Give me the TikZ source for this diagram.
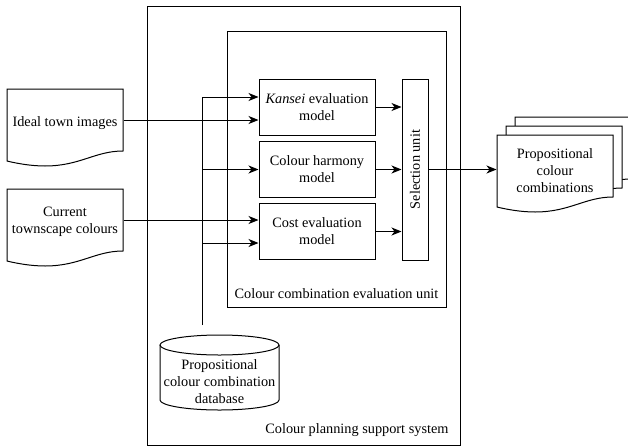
\documentclass[tikz,border=0pt]{standalone}
\usepackage{fontspec}
\setmainfont{Liberation Serif}
\usetikzlibrary{arrows.meta,calc}
\begin{document}
\begin{tikzpicture}[x=1pt,y=-1pt, line width=1pt,
  every node/.style={font=\fontsize{14.3}{17}\selectfont, align=center, inner sep=0pt},
  box/.style={draw, minimum width=116pt, minimum height=56pt},
  arr/.style={-{Stealth[length=10pt,width=8pt,inset=3pt]}},
  docnode/.style={minimum width=116pt},
  doc/.pic={\draw[fill=white] (0,0) -- (116,0) -- (116,62) .. controls (88,62) and (73,77) .. (38,77) .. controls (23,77) and (8,74) .. (0,72) -- cycle;}
]
\useasboundingbox (0,0) rectangle (628,447);
\clip (0,0) rectangle (628,447);

% containers
\node[draw, minimum width=313pt, minimum height=439pt] (outer) at (303.5,225.5) {};
\node[draw, minimum width=219pt, minimum height=276pt] (inner) at (336.5,169) {};

% models
\node[box] (kansei) at (317,107) {\textit{Kansei} evaluation\\model};
\node[box] (harmony) at (317,169.5) {Colour harmony\\model};
\node[box] (cost) at (317,231.5) {Cost evaluation\\model};
\node[draw, minimum width=26pt, minimum height=181pt] (sel) at (415,169.5) {\rotatebox{90}{Selection unit}};

% input documents
\pic at (7,89) {doc};
\node[docnode] (ideal) at (65,123) {Ideal town images};
\pic at (7,189) {doc};
\node[docnode] (current) at (65,222) {Current\\townscape colours};

% output documents
\pic at (515,117) {doc};
\pic at (506,126) {doc};
\pic at (497,135) {doc};
\node[docnode] (out) at (555,170.5) {Propositional\\colour\\combinations};

% database
\draw (219.5,345) ellipse [x radius=59.5, y radius=10];
\draw (160,345) -- (160,400) arc[start angle=180, end angle=0, x radius=59.5, y radius=10] -- (279,345);
\node (db) at (219.5,382) {Propositional\\colour combination\\database};
\coordinate (dbtop) at (202,325);

% labels
\node (cceu) at (336.5,294) {Colour combination evaluation unit};
\node[anchor=east] (cpss) at (449,430) {Colour planning support system};

% connectors
\coordinate (k1) at ($(kansei.west)+(0,-10)$);
\coordinate (k2) at ($(kansei.west)+(0,13)$);
\coordinate (c1) at ($(cost.west)+(0,-11.5)$);
\coordinate (c2) at ($(cost.west)+(0,11.5)$);
\draw[arr] (dbtop) |- (k1);
\draw[arr] (dbtop |- harmony.west) -- (harmony.west);
\draw[arr] (dbtop |- c2) -- (c2);
\draw[arr] (ideal.east |- k2) -- (k2);
\draw[arr] (current.east |- c1) -- (c1);
\draw[arr] (kansei.east) -- (kansei.east -| sel.west);
\draw[arr] (harmony.east) -- (harmony.east -| sel.west);
\draw[arr] (cost.east) -- (cost.east -| sel.west);
\draw[arr] (sel.east) -- (sel.east -| out.west);
\end{tikzpicture}
\end{document}
